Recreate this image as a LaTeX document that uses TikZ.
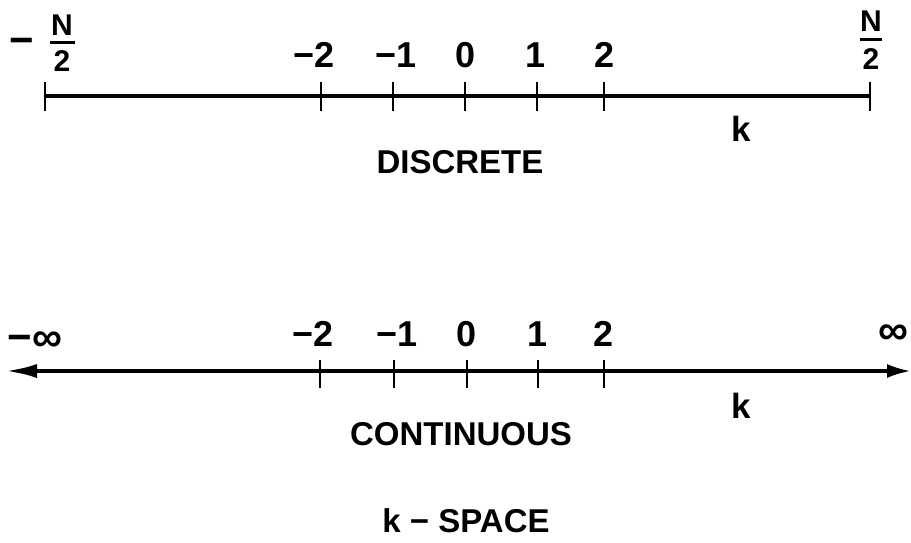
\documentclass[tikz,border=0pt]{standalone}
\usepackage{fontspec}
\setmainfont{Liberation Sans}
\usetikzlibrary{arrows.meta}
\begin{document}
\begin{tikzpicture}[x=1pt,y=-1pt,
  lbl/.style={inner sep=0pt, font=\bfseries\fontsize{33}{36}\selectfont},
  num/.style={inner sep=0pt, font=\bfseries\fontsize{36}{40}\selectfont},
  frac/.style={inner sep=0pt, font=\bfseries\fontsize{30}{32}\selectfont},
  infty/.style={inner sep=0pt, font=\bfseries\fontsize{42}{44}\selectfont},
  axisline/.style={line width=3.6pt},
  tick/.style={line width=2.6pt},
  bar/.style={line width=3pt}]
\useasboundingbox (0,0) rectangle (911,543);
% ---------- discrete ----------
\coordinate (dl) at (45,96);
\coordinate (dr) at (870,96);
\draw[axisline] (dl) -- (dr);
\foreach \x in {45,321,393,465,537,604,870}{\draw[tick] (\x,82) -- (\x,111);}
\node[num] (dm2) at (314,55) {−2};
\node[num] (dm1) at (396,55) {−1};
\node[num] (d0) at (466,55) {0};
\node[num] (d1) at (536,55) {1};
\node[num] (d2) at (605,55) {2};
% -N/2
\node[infty] (lminus) at (22,46) {−};
\node[frac] (lN) at (62,25) {N};
\node[frac] (l2) at (62,61) {2};
\draw[bar] (50,43) -- (75,43);
% N/2
\node[frac] (rN) at (871,21) {N};
\node[frac] (r2) at (871,59) {2};
\draw[bar] (860,40) -- (882,40);
\node[lbl,font=\bfseries\fontsize{35}{38}\selectfont] (dk) at (741,129) {k};
\node[lbl] (disc) at (460,162) {DISCRETE};
% ---------- continuous ----------
\coordinate (cl) at (6,371);
\coordinate (cr) at (911,371);
\draw[axisline,{Latex[length=31pt,width=14pt]}-{Latex[length=24pt,width=14pt]}] (cl) -- (cr);
\foreach \x in {320,394,467,538,604}{\draw[tick] (\x,360) -- (\x,388);}
\node[num] (cm2) at (313,334) {−2};
\node[num] (cm1) at (397,334) {−1};
\node[num] (c0) at (467,334) {0};
\node[num] (c1) at (538,334) {1};
\node[num] (c2) at (604,334) {2};
\node[infty] (minf) at (35,342) {−∞};
\node[infty,anchor=east] (pinf) at (909,335) {∞};
\node[lbl,font=\bfseries\fontsize{35}{38}\selectfont] (ck) at (741,406) {k};
\node[lbl] (cont) at (461,434) {CONTINUOUS};
\node[lbl] (kspace) at (466,521) {k − SPACE};
\end{tikzpicture}
\end{document}
